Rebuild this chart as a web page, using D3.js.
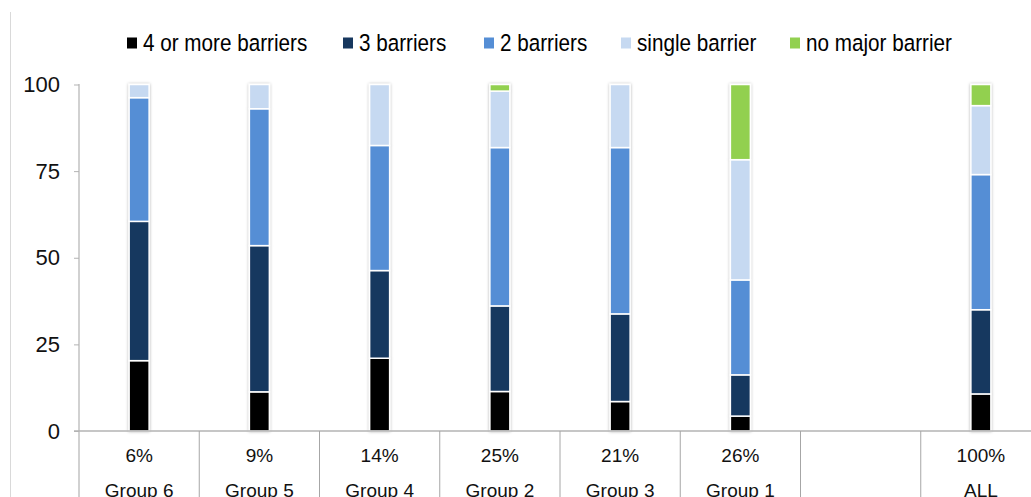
<!DOCTYPE html>
<html>
<head>
<meta charset="utf-8">
<script src="https://cdn.jsdelivr.net/npm/d3@7"></script>
<style>
  html, body { margin: 0; padding: 0; background: #fff; }
  svg { display: block; }
</style>
</head>
<body>
<svg id="chart" width="1031" height="497"></svg>
<script>
// Segments, groups and their shares
const series = ["4 or more barriers", "3 barriers", "2 barriers", "single barrier", "no major barrier"];
const colors = ["#000000", "#17375e", "#558ed5", "#c6d9f1", "#92d050"];
const groups = ["Group 6", "Group 5", "Group 4", "Group 2", "Group 3", "Group 1", "", "ALL"];
const shares = ["6%", "9%", "14%", "25%", "21%", "26%", "", "100%"];

// Percentage of each group in each barrier segment (same order as series)
const fourPlus    = [20.3, 11.3, 21.0, 11.4,  8.5,  4.3, null, 10.7];
const threeBar    = [40.2, 42.2, 25.3, 24.7, 25.3, 11.9, null, 24.3];
const twoBar      = [35.7, 39.5, 36.1, 45.7, 48.0, 27.4, null, 39.0];
const singleBar   = [ 3.8,  7.0, 17.6, 16.3, 18.2, 34.7, null, 19.9];
const noBar       = [ 0.0,  0.0,  0.0,  1.9,  0.0, 21.7, null,  6.1];
const yTicks = [0, 25, 50, 75, 100];

const svg = d3.select("#chart");

const rows = groups.map((g, i) => ({
  key: "c" + i, group: g, share: shares[i],
  s0: fourPlus[i], s1: threeBar[i], s2: twoBar[i], s3: singleBar[i], s4: noBar[i]
}));
const keys = ["s0", "s1", "s2", "s3", "s4"];

const x = d3.scaleBand().domain(rows.map(d => d.key)).range([79, 1041]).padding(0);
const y = d3.scaleLinear().domain([0, 100]).range([431, 84.5]);
const barW = 20;

// soft outer shadow around each column
const defs = svg.append("defs");
const f = defs.append("filter").attr("id", "shadow")
  .attr("x", "-50%").attr("y", "-5%").attr("width", "200%").attr("height", "110%");
f.append("feDropShadow").attr("dx", 0).attr("dy", 0).attr("stdDeviation", 1.6)
  .attr("flood-color", "#000").attr("flood-opacity", 0.3);

// chart-area left border
svg.append("line").attr("x1", 10.5).attr("x2", 10.5).attr("y1", 12).attr("y2", 497)
  .attr("stroke", "#d9d9d9").attr("stroke-width", 1);

// legend (condensed lettering)
const legendX = [127, 343, 484, 621, 790];
const lg = svg.append("g").attr("class", "legend");
series.forEach((s, i) => {
  const g = lg.append("g").attr("transform", `translate(${legendX[i]},43)`);
  g.append("rect").attr("x", 0).attr("y", -5.5).attr("width", 10).attr("height", 11).attr("fill", colors[i]);
  g.append("g").attr("transform", "translate(16,0) scale(0.88,1)")
    .append("text").attr("x", 0).attr("y", 0).attr("dy", "0.36em")
    .attr("font-family", "Liberation Sans, Arial, sans-serif")
    .attr("font-size", 23.5).attr("fill", "#000").text(s);
});

// stacked columns
const stacked = d3.stack().keys(keys).value((d, k) => d[k] == null ? 0 : d[k])(rows);
const cols = svg.append("g").selectAll("g.col")
  .data(rows.filter(d => d.s0 != null))
  .join("g").attr("class", "col").attr("filter", "url(#shadow)");

cols.each(function(row) {
  const idx = rows.indexOf(row);
  const g = d3.select(this);
  stacked.forEach((layer, li) => {
    const seg = layer[idx];
    if (seg[1] - seg[0] <= 0) return;
    g.append("rect")
      .attr("x", x(row.key) + x.bandwidth() / 2 - barW / 2)
      .attr("width", barW)
      .attr("y", y(seg[1]))
      .attr("height", y(seg[0]) - y(seg[1]))
      .attr("fill", colors[li])
      .attr("stroke", "#fff").attr("stroke-width", 1.5);
  });
});

// value axis
const yAxis = d3.axisLeft(y).tickValues(yTicks).tickSize(5).tickPadding(14);
const ya = svg.append("g").attr("transform", "translate(79,0)").call(yAxis);
ya.select(".domain").remove();
ya.selectAll(".tick line").attr("stroke", "#b3b3b3");
ya.selectAll(".tick text").attr("font-family", "Liberation Sans, Arial, sans-serif")
  .attr("font-size", 22).attr("fill", "#111");
svg.append("line").attr("x1", 79).attr("x2", 79).attr("y1", 84).attr("y2", 497)
  .attr("stroke", "#b3b3b3").attr("stroke-width", 1.2);

// category axis with divider lines
svg.append("line").attr("x1", 74).attr("x2", 1031).attr("y1", 431).attr("y2", 431)
  .attr("stroke", "#b3b3b3").attr("stroke-width", 1.5);
const bounds = rows.map(d => x(d.key)).slice(1);
svg.append("g").selectAll("line").data(bounds).join("line")
  .attr("x1", d => d).attr("x2", d => d).attr("y1", 431).attr("y2", 497)
  .attr("stroke", "#a6a6a6").attr("stroke-width", 1);

const lab = svg.append("g").attr("font-family", "Liberation Sans, Arial, sans-serif")
  .attr("font-size", 19).attr("fill", "#111").attr("text-anchor", "middle");
lab.selectAll("text.share").data(rows).join("text").attr("class", "share")
  .attr("x", d => x(d.key) + x.bandwidth() / 2).attr("y", 462).text(d => d.share);
lab.selectAll("text.grp").data(rows).join("text").attr("class", "grp")
  .attr("x", d => x(d.key) + x.bandwidth() / 2).attr("y", 496.5).text(d => d.group);
</script>
</body>
</html>
